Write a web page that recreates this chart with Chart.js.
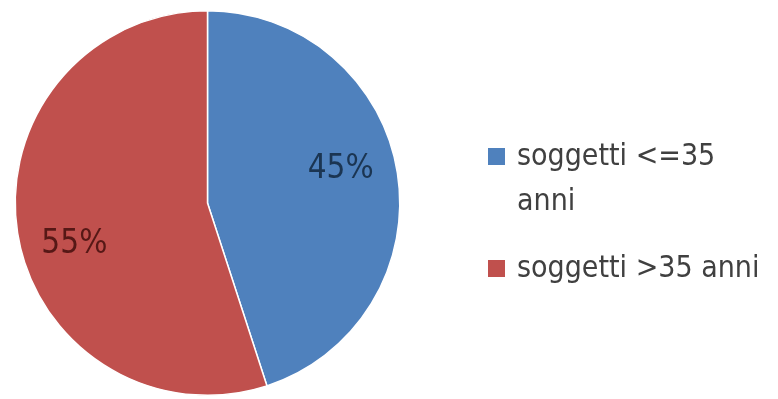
<!DOCTYPE html>
<html>
<head>
<meta charset="utf-8">
<script src="https://cdn.jsdelivr.net/npm/chart.js@4/dist/chart.umd.min.js"></script>
<style>
  html, body { margin: 0; padding: 0; background: #ffffff; }
  #wrap { width: 778px; height: 399px; }
</style>
</head>
<body>
<div id="wrap"><canvas id="myChart"></canvas></div>
<script>
// dati del grafico
const labels = [['soggetti <=35', 'anni'], ['soggetti >35 anni']];
const values = [45, 55];
const colors = ['#4F81BD', '#C0504D'];
const labelColors = ['#1B3552', '#561816'];

const FONT = '"Liberation Sans Narrow", "DejaVu Sans Condensed", "Open Sans", sans-serif';

// etichette percentuali dentro le fette
const pctLabels = {
  id: 'pctLabels',
  afterDatasetsDraw(chart) {
    const ctx = chart.ctx;
    const arcs = chart.getDatasetMeta(0).data;
    const total = values.reduce((a, b) => a + b, 0);
    ctx.save();
    ctx.font = '33px ' + FONT;
    ctx.textAlign = 'center';
    ctx.textBaseline = 'middle';
    arcs.forEach((arc, i) => {
      const p = arc.getProps(['x', 'y', 'startAngle', 'endAngle', 'outerRadius'], true);
      const mid = (p.startAngle + p.endAngle) / 2 - 0.12;
      const r = p.outerRadius * 0.72;
      ctx.fillStyle = labelColors[i];
      ctx.fillText(Math.round(values[i] / total * 100) + '%', p.x + Math.cos(mid) * r, p.y + Math.sin(mid) * r + 4);
    });
    ctx.restore();
  }
};

// legenda a destra (testo su più righe)
const sideLegend = {
  id: 'sideLegend',
  afterDraw(chart) {
    const ctx = chart.ctx;
    const x = 488, box = 17;
    const tops = [148, 260];
    const lineH = 45;
    ctx.save();
    ctx.font = '30px ' + FONT;
    ctx.textBaseline = 'alphabetic';
    ctx.textAlign = 'left';
    chart.data.labels.forEach((lab, i) => {
      ctx.fillStyle = colors[i];
      ctx.fillRect(x, tops[i], box, box);
      ctx.fillStyle = '#404040';
      lab.forEach((line, j) => {
        ctx.fillText(line, x + 29, tops[i] + 17 + j * lineH);
      });
    });
    ctx.restore();
  }
};

let config = {
  type: 'pie',
  data: {
    labels: labels,
    datasets: [{
      data: values,
      backgroundColor: colors,
      borderColor: '#ffffff',
      borderWidth: 1.5
    }]
  },
  options: {
    responsive: true,
    maintainAspectRatio: false,
    animation: false,
    layout: { padding: { left: 14, right: 377, top: 10, bottom: 3 } },
    plugins: {
      legend: { display: false },
      tooltip: { enabled: false }
    }
  },
  plugins: [pctLabels, sideLegend]
};

let myChart = new Chart(document.getElementById('myChart'), config);
</script>
</body>
</html>
